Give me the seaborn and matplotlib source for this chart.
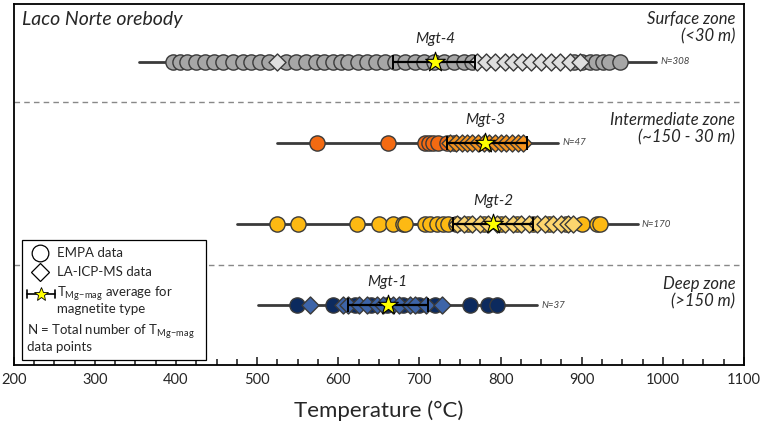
import numpy as np
import pandas as pd
import matplotlib
matplotlib.use('Agg')
import matplotlib.pyplot as plt
import seaborn as sns
from matplotlib.patches import Rectangle

sns.set_style('ticks')
plt.rcParams['font.family'] = ['Lato', 'DejaVu Sans']

# Данные по типам магнетита (сверху вниз)
types = ['Mgt-4', 'Mgt-3', 'Mgt-2', 'Mgt-1']
n_points = [308, 47, 170, 37]
mean_t = [719, 781, 791, 661]
err_lo = [667, 734, 741, 612]
err_hi = [768, 832, 840, 710]
range_lo = [355, 524, 475, 501]
range_hi = [992, 871, 969, 845]

empa = {
    'Mgt-4': [396, 405, 414, 425, 436, 447, 458, 470, 482, 492, 503, 515, 536, 548,
              560, 572, 582, 593, 603, 612, 624, 636, 646, 658, 670, 682, 694, 706,
              718, 730, 742, 755, 765, 890, 900, 910, 918, 926, 934, 947],
    'Mgt-3': [574, 661, 707, 712, 717, 723, 734, 742],
    'Mgt-2': [524, 550, 623, 650, 667, 680, 682, 707, 713, 722, 729, 735, 745, 760,
              780, 800, 820, 840, 860, 880, 900, 919, 922],
    'Mgt-1': [549, 593, 620, 640, 660, 680, 700, 719, 762, 784, 795],
}
laicp = {
    'Mgt-4': [524, 771, 782, 793, 805, 815, 826, 838, 850, 862, 873, 886, 898],
    'Mgt-3': [738, 745, 752, 758, 765, 772, 779, 786, 793, 800, 807, 814, 821, 828],
    'Mgt-2': [746, 755, 765, 775, 785, 795, 805, 815, 825, 835, 845, 855, 865, 875,
              883, 889],
    'Mgt-1': [565, 606, 612, 625, 635, 648, 655, 668, 675, 688, 695, 708, 728],
}

circle_colors = {'Mgt-4': '#a6a6a6', 'Mgt-3': '#f36a12', 'Mgt-2': '#fdb913', 'Mgt-1': '#0c2a5e'}
diamond_colors = {'Mgt-4': '#dedede', 'Mgt-3': '#f7941d', 'Mgt-2': '#fdd56e', 'Mgt-1': '#3d64a8'}

fig = plt.figure(figsize=(7.6, 4.29), dpi=100)
ax = fig.add_axes([0.018, 0.149, 0.961, 0.842])

for i, t in enumerate(types):
    ax.plot([range_lo[i], range_hi[i]], [i, i], color='#3a3a3a', lw=2, zorder=1)
    df_c = pd.DataFrame({'temp': empa[t], 'row': i})
    df_d = pd.DataFrame({'temp': laicp[t], 'row': i})
    sns.scatterplot(data=df_c, x='temp', y='row', marker='o', s=120,
                    color=circle_colors[t], edgecolor='#3a3a3a', linewidth=1, ax=ax, zorder=2)
    sns.scatterplot(data=df_d, x='temp', y='row', marker='D', s=75,
                    color=diamond_colors[t], edgecolor='#3a3a3a', linewidth=1, ax=ax, zorder=3)
    ax.errorbar(mean_t[i], i, xerr=[[mean_t[i] - err_lo[i]], [err_hi[i] - mean_t[i]]],
                fmt='none', ecolor='black', elinewidth=1.6, capsize=5, capthick=1.4, zorder=4)
    ax.scatter(mean_t[i], i, marker='*', s=220, color='#ffff00', edgecolor='black',
               linewidth=0.8, zorder=5)
    ax.text(mean_t[i], i - 0.2, t, ha='center', va='bottom', fontsize=11, style='italic')
    ax.text(range_hi[i] + 5, i, f'N={n_points[i]}', ha='left', va='center',
            fontsize=7, style='italic', color='#444444')

# Границы зон
for yl in [0.5, 2.5]:
    ax.axhline(yl, color='#888888', lw=1, ls=(0, (4, 3)), zorder=0)

zone_kw = dict(transform=ax.transAxes, ha='right', va='top', fontsize=12,
               style='italic', linespacing=1.1)
ax.text(0.988, 0.98, 'Surface zone\n(<30 m)', **zone_kw)
ax.text(0.988, 0.70, 'Intermediate zone\n(~150 - 30 m)', **zone_kw)
ax.text(0.988, 0.246, 'Deep zone\n(>150 m)', **zone_kw)
ax.text(0.011, 0.98, 'Laco Norte orebody', transform=ax.transAxes, ha='left', va='top',
        fontsize=14, style='italic')

ax.set_xlim(200, 1100)
ax.set_ylim(3.74, -0.716)
ax.set_yticks([])
ax.set_ylabel('')
ax.set_xticks(np.arange(200, 1101, 100))
ax.set_xticks(np.arange(200, 1101, 25), minor=True)
ax.tick_params(axis='x', which='both', direction='in', labelsize=10.5, width=1.2)
ax.tick_params(axis='x', which='major', length=6, pad=6)
ax.tick_params(axis='x', which='minor', length=4)
ax.set_xlabel('Temperature (°C)', fontsize=16, labelpad=9)
for sp in ax.spines.values():
    sp.set_linewidth(1.3)
    sp.set_color('black')

# Легенда (рисуем вручную, в координатах осей)
tr = ax.transAxes
ax.add_patch(Rectangle((0.011, 0.014), 0.253, 0.332, transform=tr, facecolor='white',
                       edgecolor='black', lw=0.9, zorder=6))
ax.plot([0.036], [0.310], transform=tr, marker='o', ms=12, mfc='white',
        mec='black', mew=0.9, ls='none', zorder=7)
ax.plot([0.036], [0.258], transform=tr, marker='D', ms=9.5, mfc='white',
        mec='black', mew=0.9, ls='none', zorder=7)
ax.plot([0.018, 0.056], [0.197, 0.197], transform=tr, color='black', lw=1.2, zorder=7)
ax.plot([0.018, 0.018], [0.185, 0.209], transform=tr, color='black', lw=1.2, zorder=7)
ax.plot([0.056, 0.056], [0.185, 0.209], transform=tr, color='black', lw=1.2, zorder=7)
ax.plot([0.037], [0.197], transform=tr, marker='*', ms=10, mfc='#ffff00', mec='black',
        mew=0.6, ls='none', zorder=8)
leg_kw = dict(transform=tr, ha='left', va='center', fontsize=9.5, zorder=8)
ax.text(0.059, 0.310, 'EMPA data', **leg_kw)
ax.text(0.059, 0.258, 'LA-ICP-MS data', **leg_kw)
ax.text(0.059, 0.180, r'T$_{\mathregular{Mg\!-\!mag}}$ average for' + '\nmagnetite type',
        linespacing=1.0, **leg_kw)
ax.text(0.018, 0.075, r'N = Total number of T$_{\mathregular{Mg\!-\!mag}}$' + '\ndata points',
        linespacing=1.0, **leg_kw)

fig.savefig('out.png', dpi=100)
